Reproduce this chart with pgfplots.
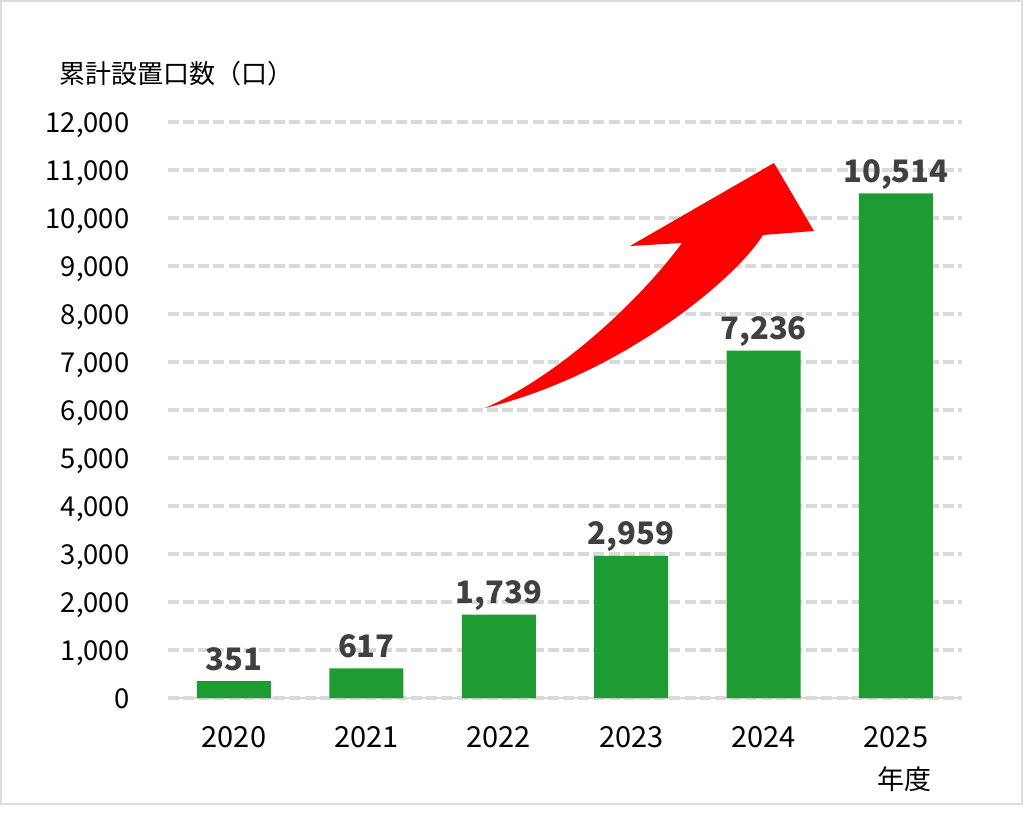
\documentclass[border=0pt]{standalone}
\usepackage{fontspec}
\setmainfont{Noto Sans CJK JP}
\usepackage{pgfplots}
\pgfplotsset{compat=1.18}
\definecolor{bargreen}{HTML}{1E9B32}
\definecolor{lblgray}{HTML}{404040}
\definecolor{gridgray}{HTML}{D9D9D9}
\definecolor{framegray}{HTML}{DDDDDD}
\begin{document}
\begin{tikzpicture}
\useasboundingbox (0,0) rectangle (512pt,-406.5pt);
\begin{axis}[
  at={(83.9pt,-349pt)}, anchor=south west,
  scale only axis, width=397.2pt, height=288pt,
  ybar, bar width=37pt,
  xmin=-0.5, xmax=5.5, ymin=0, ymax=12000,
  xtick={0,1,2,3,4,5},
  xticklabels={2020,2021,2022,2023,2024,2025},
  ytick={0,1000,...,12000},
  scaled y ticks=false,
  /pgf/number format/.cd, 1000 sep={,}, assume math mode=true, /pgfplots/.cd,
  major tick length=0pt,
  axis lines*=left,
  y axis line style={draw=none},
  x axis line style={draw=gridgray, line width=1pt},
  ymajorgrids,
  grid style={draw=gridgray, line width=2pt, dash pattern=on 5.5pt off 2.1pt},
  yticklabel style={anchor=base east, inner sep=0pt, xshift=-19pt, yshift=-5pt, font=\fontsize{13.7}{16}\selectfont, text=black},
  xticklabel style={anchor=base, inner sep=0pt, yshift=-24.5pt, font=\fontsize{14.5}{17}\selectfont, text=black},
  nodes near coords,
  nodes near coords style={anchor=base, inner sep=0pt, yshift=5.5pt, font=\bfseries\fontsize{15.5}{18}\selectfont, text=lblgray},
  clip=false,
]
\addplot[fill=bargreen, draw=none] coordinates {(0,351) (1,617) (2,1739) (3,2959) (4,7236) (5,10514)};
\end{axis}
\begin{scope}[x=0.5pt, y=-0.5pt]
\draw[framegray, line width=1pt] (1,1) rectangle (1022,804);
\node[anchor=west, inner sep=0pt, font=\fontsize{13}{16}\selectfont] at (59,74) {累計設置口数（口）};
\node[anchor=center, inner sep=0pt, font=\fontsize{13.5}{16}\selectfont] at (904,779.5) {年度};
\fill[red] (485,408) .. controls (560,375) and (640,300) .. (682,243)
  -- (630,246) -- (774,163) -- (814,231) -- (763,235)
  .. controls (735,280) and (620,375) .. (485,408) -- cycle;
\end{scope}
\end{tikzpicture}
\end{document}
